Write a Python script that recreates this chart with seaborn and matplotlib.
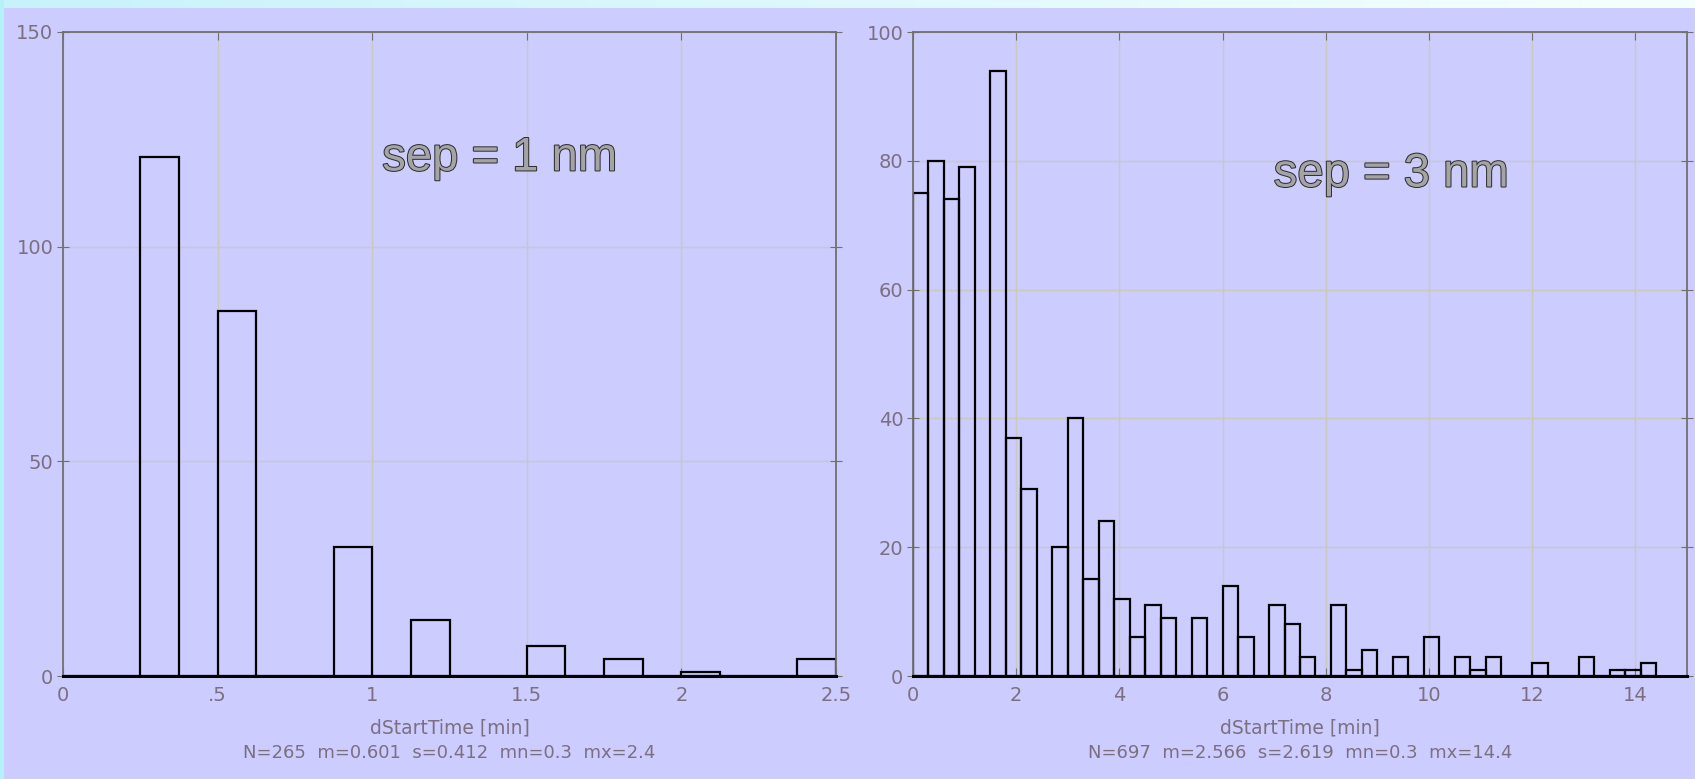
import matplotlib
matplotlib.use("Agg")
import matplotlib.pyplot as plt
import matplotlib.patheffects as pe
import numpy as np
import seaborn as sns

# sep = 1 nm: observed dStartTime values [min] and their counts
sep1_values = [0.3, 0.6, 0.9, 1.2, 1.5, 1.8, 2.1, 2.4]
sep1_counts = [121, 85, 30, 13, 7, 4, 1, 4]
sep1_binwidth = 0.125

# sep = 3 nm: counts per 0.3 min bin, starting at 0
sep3_binwidth = 0.3
sep3_counts = [75, 80, 74, 79, 0, 94, 37, 29, 0, 20, 40, 15, 24, 12, 6, 11,
               9, 0, 9, 0, 14, 6, 0, 11, 8, 3, 0, 11, 1, 4, 0, 3,
               0, 6, 0, 3, 1, 3, 0, 0, 2, 0, 0, 3, 0, 1, 1, 2]

sep1_xticks = [0, 0.5, 1, 1.5, 2, 2.5]
sep1_xticklabels = ["0", ".5", "1", "1.5", "2", "2.5"]
sep1_yticks = [0, 50, 100, 150]
sep3_xticks = [0, 2, 4, 6, 8, 10, 12, 14]
sep3_yticks = [0, 20, 40, 60, 80, 100]

stats1 = "N=265  m=0.601  s=0.412  mn=0.3  mx=2.4"
stats3 = "N=697  m=2.566  s=2.619  mn=0.3  mx=14.4"

BG = "#ccccff"
TXT = "#7b6f80"
GRID = "#c9c9bc"

sns.set_style("white", {"axes.facecolor": BG, "figure.facecolor": BG})
plt.rcParams["font.family"] = ["DejaVu Sans"]

fig = plt.figure(figsize=(16.95, 7.79), dpi=100)
W, H = 1695, 779

# light cyan strips along the top and left edge
strip = fig.add_axes([0, 1 - 8 / H, 1, 8 / H])
grad = np.linspace(0, 1, 256).reshape(1, -1)
strip.imshow(grad, aspect="auto", cmap=matplotlib.colors.LinearSegmentedColormap.from_list(
    "c", ["#c8f2fb", "#f6ffff"]), extent=[0, 1, 0, 1])
strip.set_axis_off()
lstrip = fig.add_axes([0, 0, 4 / W, 1])
lstrip.set_facecolor("#b4f0f8")
lstrip.set_xticks([])
lstrip.set_yticks([])
for s in lstrip.spines.values():
    s.set_visible(False)


def style_axes(ax, xlim, ylim, xticks, yticks, xlabels, label, stats, title, tx, ty):
    ax.set_xlim(*xlim)
    ax.set_ylim(*ylim)
    ax.set_xticks(xticks)
    ax.set_xticklabels(xlabels)
    ax.set_yticks(yticks)
    ax.grid(True, color=GRID, lw=1)
    ax.set_axisbelow(True)
    for side in ["left", "top", "right"]:
        ax.spines[side].set_visible(True)
        ax.spines[side].set_color("#707070")
        ax.spines[side].set_linewidth(1.3)
    ax.spines["bottom"].set_visible(True)
    ax.spines["bottom"].set_color("black")
    ax.spines["bottom"].set_linewidth(2.2)
    ax.tick_params(axis="x", top=True, bottom=True, direction="in", length=6,
                   color="#707070", labelcolor=TXT, labelsize=14, pad=7)
    ax.tick_params(axis="y", left=True, right=True, direction="inout", length=8,
                   color="#707070", labelcolor=TXT, labelsize=14, pad=3)
    ax.set_xlabel("")
    ax.set_ylabel("")
    ax.text(0.5, -0.08, label, transform=ax.transAxes, ha="center", va="center",
            color=TXT, fontsize=13.5)
    ax.text(0.5, -0.12, stats, transform=ax.transAxes, ha="center", va="center",
            color=TXT, fontsize=13)
    ax.text(tx, ty, title, transform=ax.transAxes, ha="center", va="baseline",
            fontsize=34, family=["Liberation Sans", "DejaVu Sans"], color="#a4a4a4",
            path_effects=[pe.Stroke(linewidth=1.4, foreground="#2a2a2a"), pe.Normal()])


# left panel
ax1 = fig.add_axes([63 / W, (H - 676) / H, (836 - 63) / W, (676 - 32) / H])
sns.histplot(x=sep1_values, weights=sep1_counts, binwidth=sep1_binwidth,
             binrange=(0, 2.5), fill=False, color="black", linewidth=1.6, ax=ax1)
style_axes(ax1, (0, 2.5), (0, 150), sep1_xticks, sep1_yticks, sep1_xticklabels,
           "dStartTime [min]", stats1, "sep = 1 nm", 0.565, 0.785)

# right panel
nbins3 = len(sep3_counts)
centers3 = [(i + 0.5) * sep3_binwidth for i in range(nbins3)]
ax2 = fig.add_axes([913 / W, (H - 676) / H, (1687 - 913) / W, (676 - 32) / H])
sns.histplot(x=centers3, weights=sep3_counts, binwidth=sep3_binwidth,
             binrange=(0, nbins3 * sep3_binwidth),
             fill=False, color="black", linewidth=1.6, ax=ax2)
style_axes(ax2, (0, 15), (0, 100), sep3_xticks, sep3_yticks,
           [str(t) for t in sep3_xticks], "dStartTime [min]", stats3,
           "sep = 3 nm", 0.618, 0.76)

fig.savefig("out.png", dpi=100, facecolor=BG)
